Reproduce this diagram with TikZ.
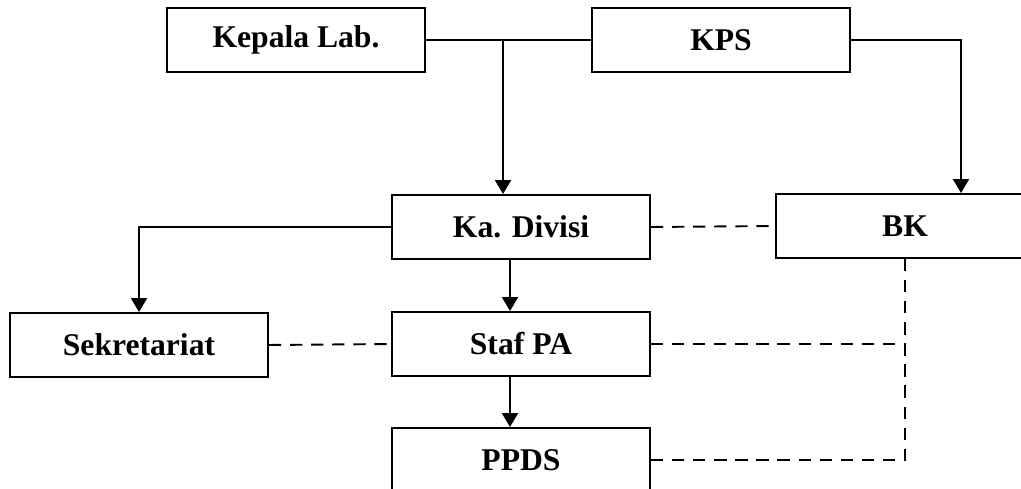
\documentclass[tikz,border=0pt]{standalone}
\usepackage{fontspec}
\setmainfont{Liberation Serif}
\usetikzlibrary{arrows.meta}

\begin{document}
\begin{tikzpicture}[x=0.02cm,y=-0.02cm,line width=1.1pt,>={Triangle[length=0.28cm,width=0.32cm]},
  unit/.style={draw,line width=1.1pt,minimum width=5.16cm,minimum height=1.28cm,inner sep=0pt,
    font=\fontsize{18}{20}\selectfont\bfseries},
  dashline/.style={dash pattern=on 7pt off 5pt,line width=1.1pt}]
  \clip (0,0) rectangle (1021,489);
  % kotak
  \node[unit] (kalab) at (296,40) {Kepala Lab.};
  \node[unit] (kps) at (721,40) {KPS};
  \node[unit] (kadiv) at (521,227) {Ka. Divisi};
  \node[unit] (bk) at (905,226) {BK};
  \node[unit] (sekre) at (139,345) {Sekretariat};
  \node[unit] (staf) at (521,344) {Staf PA};
  \node[unit] (ppds) at (521,460) {PPDS};
  % garis komando
  \draw (kalab.east) -- (kps.west);
  \coordinate (jn) at (503,40);
  \draw[->] (jn) -- (jn |- kadiv.north);
  \draw[->] (kps.east) -| ([xshift=1.12cm]bk.north);
  \draw[->] (kadiv.west) -| (sekre.north);
  \draw[->] ([xshift=-0.22cm]kadiv.south) -- ([xshift=-0.22cm]staf.north);
  \draw[->] ([xshift=-0.22cm]staf.south) -- ([xshift=-0.22cm]ppds.north);
  % garis koordinasi
  \draw[dashline] (kadiv.east) -- (bk.west);
  \draw[dashline] (sekre.east) -- (staf.west);
  \draw[dashline] (bk.south) |- (ppds.east);
  \draw[dashline] (staf.east) -- (staf.east -| bk.south);
\end{tikzpicture}
\end{document}
